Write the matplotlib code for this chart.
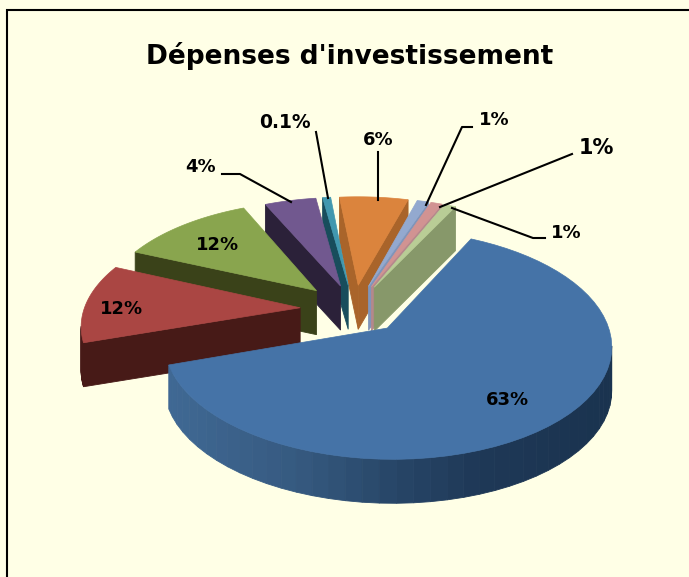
"""
Dépenses d'investissement - exploded 3D pie drawn with polygons,
matplotlib has no real 3D pie so the projection is done by hand.
"""

import numpy as np
import matplotlib
matplotlib.use("Agg")
import matplotlib.pyplot as plt
from matplotlib.patches import Polygon

# ---------------------------
# Data (clockwise from the big slice)
# ---------------------------
title = "Dépenses d'investissement"
labels = ["63%", "12%", "12%", "4%", "0.1%", "6%", "1%", "1%", "1%"]
# labels are rounded (0.1% is drawn wider than it says)
values = [63, 11.7, 11.8, 4.5, 0.7, 6, 1, 1, 1]
explode = [0.23, 0.25, 0.25, 0.23, 0.23, 0.23, 0.23, 0.23, 0.23]
top_colors = ["#4573a7", "#aa4643", "#89a54e", "#71588f", "#4198af", "#db843d", "#93a9cf", "#d19392", "#b9cd96"]
side_colors = ["#2f5275", "#471a17", "#3a4219", "#2b2139", "#184d5c", "#a9642a", "#7f95ba", "#b5888c", "#87986a"]
blue_rim_x = [170, 300, 400, 480, 612]
blue_rim_r = [0.25, 0.21, 0.15, 0.12, 0.10]
blue_rim_g = [0.41, 0.35, 0.27, 0.22, 0.20]
blue_rim_b = [0.58, 0.50, 0.40, 0.34, 0.31]

label_x = [507, 122, 218, 201, 285, 378, 494, 596, 566]
label_y = [400, 309, 245, 167, 122, 140, 120, 148, 233]
label_size = [13, 13, 13, 13, 13.5, 13, 13, 15, 13]
# leader lines, None = label sits on the slice
leaders = [
    None,
    None,
    None,
    [(222, 174), (240, 174), (291, 202)],
    [(316, 132), (328, 198)],
    [(378, 152), (378, 200)],
    [(472, 127), (462, 127), (426, 205)],
    [(572, 154), (440, 207)],
    [(545, 238), (533, 238), (452, 208)],
]

# ---------------------------
# Projection settings
# ---------------------------
CX, CY = 354, 309
A, B, K = 216, 107, 0.14
DEPTH = 44
START = 63.5  # degrees, where the big slice begins


def project(u, v):
    s = 1 / (1 + K * v)
    return CX + A * u * s, CY - B * v * s


fig = plt.figure(figsize=(6.89, 5.77), dpi=100, facecolor="#ffffe6")
ax = fig.add_axes([0, 0, 1, 1])
ax.set_xlim(0, 689)
ax.set_ylim(577, 0)
ax.axis("off")

# chart border, the crop only keeps the top and left sides
ax.plot([7, 7, 689], [577, 9.5, 9.5], color="black", lw=1.5, solid_joinstyle="miter")

# ---------------------------
# Build the slices
# ---------------------------
fractions = np.array(values) / sum(values)
ends = START - np.cumsum(fractions) * 360
starts = ends + fractions * 360

# the slices on the right stack towards the big one, same for the left, big one last
order = [5, 6, 7, 8, 4, 3, 2, 1, 0]
for i in order:
    t = np.radians(np.linspace(starts[i], ends[i], 60))
    mid = np.radians((starts[i] + ends[i]) / 2)
    ox, oy = explode[i] * np.cos(mid), explode[i] * np.sin(mid)
    u = np.concatenate([[ox], ox + np.cos(t)])
    v = np.concatenate([[oy], oy + np.sin(t)])
    x, y = project(u, v)
    pts = np.column_stack([x, y])

    # side faces: outline runs clockwise on screen, so edges going left face the viewer
    faces = []
    n = len(pts)
    for j in range(n):
        a, b = pts[j], pts[(j + 1) % n]
        if b[0] < a[0]:
            faces.append((a, b, j))
    faces.sort(key=lambda f: (f[0][1] + f[1][1]) / 2)
    for a, b, j in faces:
        color = side_colors[i]
        if i == 0 and j not in (0, n - 1):
            xm = (a[0] + b[0]) / 2
            color = (np.interp(xm, blue_rim_x, blue_rim_r),
                     np.interp(xm, blue_rim_x, blue_rim_g),
                     np.interp(xm, blue_rim_x, blue_rim_b))
        quad = [a, b, (b[0], b[1] + DEPTH), (a[0], a[1] + DEPTH)]
        ax.add_patch(Polygon(quad, closed=True, facecolor=color, edgecolor=color, lw=0.6))

    ax.add_patch(Polygon(pts, closed=True, facecolor=top_colors[i], edgecolor=top_colors[i], lw=0.5))

# ---------------------------
# Leader lines and text
# ---------------------------
for leader in leaders:
    if leader is not None:
        ax.plot([p[0] for p in leader], [p[1] for p in leader], color="black", lw=1.5)

for name, x, y, size in zip(labels, label_x, label_y, label_size):
    ax.text(x, y, name, fontsize=size, fontweight="bold", ha="center", va="center",
            family="DejaVu Sans", color="black")

ax.text(350, 56, title, fontsize=19, fontweight="bold", ha="center", va="center",
        family="DejaVu Sans", color="black")

fig.savefig("out.png", dpi=100, facecolor=fig.get_facecolor())
